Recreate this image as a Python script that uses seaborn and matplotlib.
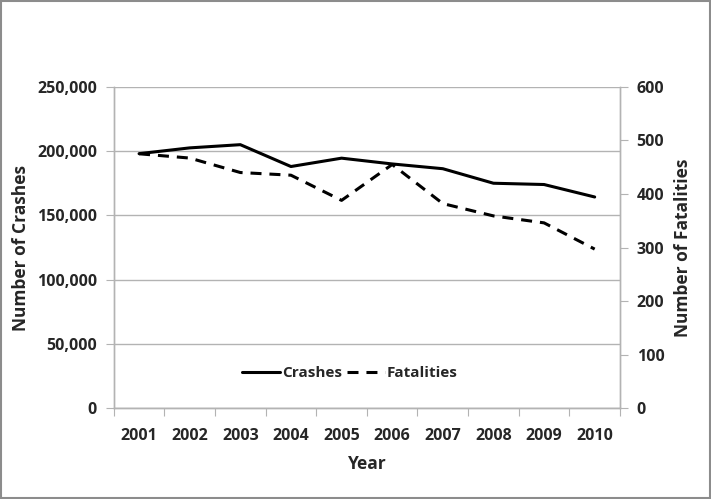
import numpy as np
import pandas as pd
import matplotlib
matplotlib.use("Agg")
import matplotlib.pyplot as plt
import seaborn as sns
from matplotlib.patches import Rectangle
from matplotlib.ticker import FuncFormatter, FixedLocator

# data
years = [2001, 2002, 2003, 2004, 2005, 2006, 2007, 2008, 2009, 2010]
crashes = [198000, 202500, 205000, 188000, 194500, 190000, 186300, 175000, 174000, 164300]
fatalities = [475, 467, 440, 435, 388, 455, 382, 359, 346, 297]

df = pd.DataFrame({"Year": years, "Crashes": crashes, "Fatalities": fatalities})

sns.set_style("white")
plt.rcParams["font.family"] = ["Open Sans", "DejaVu Sans"]
plt.rcParams["font.weight"] = "bold"

grey = "#b3b3b3"

fig = plt.figure(figsize=(7.11, 4.99), dpi=100)
ax = fig.add_axes([0.160, 0.182, 0.712, 0.644])
ax2 = ax.twinx()

sns.lineplot(data=df, x="Year", y="Crashes", ax=ax, color="black",
             linewidth=2.2, label="Crashes", legend=False)
sns.lineplot(data=df, x="Year", y="Fatalities", ax=ax2, color="black",
             linewidth=2.2, label="Fatalities", legend=False)
ax2.lines[0].set_dashes((3.6, 2.6))

ax.set_xlim(2000.5, 2010.5)
ax.set_ylim(0, 250000)
ax2.set_ylim(0, 600)

ax.set_yticks(np.arange(0, 250001, 50000))
ax.yaxis.set_major_formatter(FuncFormatter(lambda v, p: f"{int(v):,}"))
ax2.set_yticks(np.arange(0, 601, 100))

# category style x axis: ticks between years, labels centered
ax.xaxis.set_major_locator(FixedLocator(np.arange(2000.5, 2011, 1)))
ax.xaxis.set_minor_locator(FixedLocator(years))
ax.set_xticklabels([])
ax.set_xticklabels([str(y) for y in years], minor=True)
ax.tick_params(axis="x", which="major", length=6, color=grey, direction="out", bottom=True)
ax.tick_params(axis="x", which="minor", length=0, pad=14, labelsize=11.5)

ax.tick_params(axis="y", length=6, color=grey, direction="out", left=True, labelsize=11.5, pad=6)
ax2.tick_params(axis="y", length=6, color=grey, direction="out", right=True, labelsize=11.5, pad=6)

ax.grid(axis="y", color=grey, linewidth=1)
ax.set_axisbelow(True)

for a in (ax, ax2):
    a.spines["top"].set_visible(False)
    for s in ("left", "right", "bottom"):
        a.spines[s].set_color(grey)
        a.spines[s].set_linewidth(1)

ax.set_xlabel("Year", fontsize=12.5, fontweight="bold", labelpad=8)
ax.set_ylabel("Number of Crashes", fontsize=12.5, fontweight="bold", labelpad=5)
ax2.set_ylabel("Number of Fatalities", fontsize=12.5, fontweight="bold", labelpad=7)

h1, l1 = ax.get_legend_handles_labels()
h2, l2 = ax2.get_legend_handles_labels()
ax2.legend(h1 + h2, l1 + l2, loc="center", bbox_to_anchor=(0.466, 0.109),
           ncol=2, frameon=False, handlelength=2.5,
           handletextpad=0.1, columnspacing=0.3,
           prop={"weight": "bold", "size": 11})

fig.patches.append(Rectangle((0.002, 0.003), 0.996, 0.994, transform=fig.transFigure,
                             fill=False, edgecolor="#8c8c8c", linewidth=1.5))

fig.savefig("out.png", dpi=100)
